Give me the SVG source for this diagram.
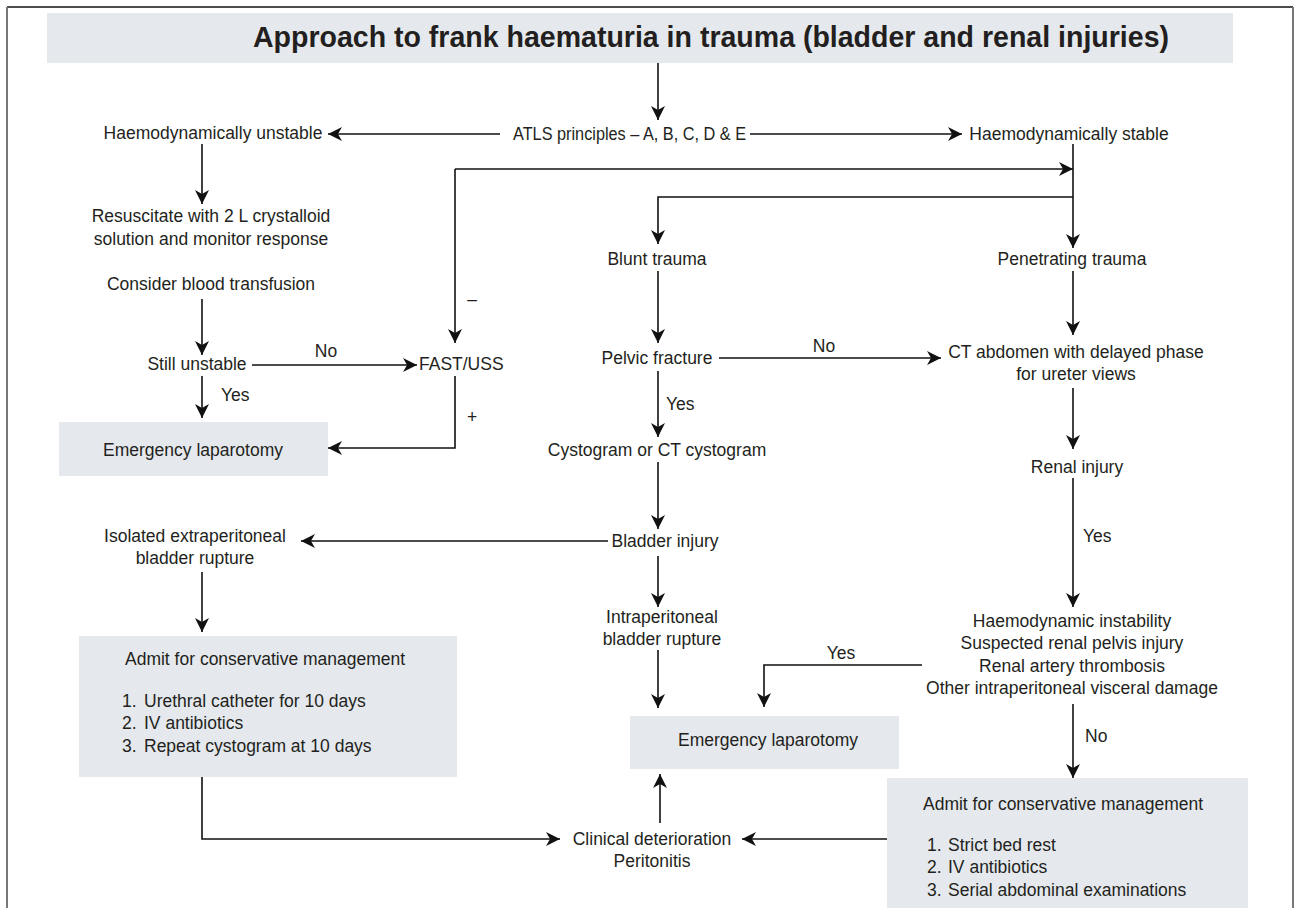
<svg xmlns="http://www.w3.org/2000/svg" width="1295" height="908" viewBox="0 0 1295 908">
<style>
text{font-family:"Liberation Sans",Arial,sans-serif;font-size:17.5px;fill:#231f20}
.c{text-anchor:middle}
.t{font-weight:bold;font-size:29px}
.box{fill:#e5e9ed}
.ln{fill:none;stroke:#111;stroke-width:1.6}
.ln.a{marker-end:url(#ah)}
</style>
<defs>
<marker id="ah" markerUnits="userSpaceOnUse" markerWidth="14" markerHeight="14" refX="12" refY="6" orient="auto" viewBox="0 0 12 12">
<path d="M0,0 L12,6 L0,12 L3.5,6 Z" fill="#111"/>
</marker>
</defs>
<rect width="1295" height="908" fill="#fff"/>
<g id="frame">
<line x1="7" y1="7" x2="1293" y2="7" stroke="#111" stroke-width="1.6"/>
<line x1="7" y1="7" x2="7" y2="908" stroke="#777" stroke-width="2"/>
<line x1="1293" y1="7" x2="1293" y2="908" stroke="#777" stroke-width="2"/>
</g>
<g id="title">
<rect class="box" x="47" y="13" width="1186" height="50"/>
<text class="t" x="253" y="47" textLength="916" lengthAdjust="spacingAndGlyphs">Approach to frank haematuria in trauma (bladder and renal injuries)</text>
</g>
<g id="connectors">
<path class="ln a" d="M658,63 V120"/>
<path class="ln a" d="M500,134 H328"/>
<path class="ln a" d="M750,134 H962"/>
<path class="ln a" d="M202,144 V204"/>
<path class="ln a" d="M202,299 V355"/>
<path class="ln a" d="M252,365 H417"/>
<path class="ln a" d="M202,376 V418"/>
<path class="ln a" d="M455,376 V448 H328"/>
<path class="ln a" d="M1073,144 V248"/>
<path class="ln a" d="M455,169 H1073"/>
<path class="ln a" d="M455,169 V343"/>
<path class="ln a" d="M1073,197 H658 V244"/>
<path class="ln a" d="M658,271 V343"/>
<path class="ln a" d="M719,358 H941"/>
<path class="ln a" d="M658,371 V437"/>
<path class="ln a" d="M658,462 V529"/>
<path class="ln a" d="M608,541 H301"/>
<path class="ln a" d="M658,556 V607"/>
<path class="ln a" d="M658,650 V708"/>
<path class="ln a" d="M1073,271 V335"/>
<path class="ln a" d="M1073,388 V449"/>
<path class="ln a" d="M1073,478 V607"/>
<path class="ln a" d="M922,665 H764 V707"/>
<path class="ln a" d="M1073,704 V778"/>
<path class="ln a" d="M202,572 V632"/>
<path class="ln a" d="M202,777 V839 H560"/>
<path class="ln a" d="M887,839 H742"/>
<path class="ln a" d="M660,823 V774"/>
</g>
<g id="labels">
<text x="326" y="357" class="c">No</text>
<text x="221" y="401">Yes</text>
<text x="472" y="305" class="c">–</text>
<text x="472" y="423" class="c">+</text>
<text x="824" y="352" class="c">No</text>
<text x="666" y="410">Yes</text>
<text x="841" y="659" class="c">Yes</text>
<text x="1083" y="542">Yes</text>
<text x="1085" y="742">No</text>
</g>
<g id="n-atls"><text x="513" y="140" textLength="233" lengthAdjust="spacingAndGlyphs">ATLS principles – A, B, C, D &amp; E</text></g>
<g id="n-unstable"><text x="213" y="139" class="c">Haemodynamically unstable</text></g>
<g id="n-stable"><text x="1069" y="140" class="c">Haemodynamically stable</text></g>
<g id="n-resus"><text x="211" y="222" class="c">Resuscitate with 2 L crystalloid</text><text x="211" y="245" class="c">solution and monitor response</text></g>
<g id="n-transfusion"><text x="211" y="290" class="c">Consider blood transfusion</text></g>
<g id="n-still"><text x="197" y="370" class="c">Still unstable</text></g>
<g id="n-fast"><text x="419" y="370">FAST/USS</text></g>
<g id="n-lap1"><rect class="box" x="59" y="422" width="269" height="54"/><text x="193" y="456" class="c">Emergency laparotomy</text></g>
<g id="n-blunt"><text x="657" y="265" class="c">Blunt trauma</text></g>
<g id="n-pelvic"><text x="657" y="364" class="c">Pelvic fracture</text></g>
<g id="n-cysto"><text x="657" y="456" class="c">Cystogram or CT cystogram</text></g>
<g id="n-bladder"><text x="665" y="547" class="c">Bladder injury</text></g>
<g id="n-intra"><text x="662" y="623" class="c">Intraperitoneal</text><text x="662" y="645" class="c">bladder rupture</text></g>
<g id="n-isolated"><text x="195" y="542" class="c">Isolated extraperitoneal</text><text x="195" y="564" class="c">bladder rupture</text></g>
<g id="n-admit1"><rect class="box" x="79" y="636" width="378" height="141"/>
<text x="125" y="665">Admit for conservative management</text>
<text x="122" y="707">1.</text><text x="144" y="707">Urethral catheter for 10 days</text>
<text x="122" y="729">2.</text><text x="144" y="729">IV antibiotics</text>
<text x="122" y="752">3.</text><text x="144" y="752">Repeat cystogram at 10 days</text>
</g>
<g id="n-lap2"><rect class="box" x="630" y="716" width="269" height="53"/><text x="768" y="746" class="c">Emergency laparotomy</text></g>
<g id="n-clinical"><text x="652" y="845" class="c">Clinical deterioration</text><text x="652" y="867" class="c">Peritonitis</text></g>
<g id="n-penetrating"><text x="1072" y="265" class="c">Penetrating trauma</text></g>
<g id="n-ct"><text x="1076" y="358" class="c">CT abdomen with delayed phase</text><text x="1076" y="380" class="c">for ureter views</text></g>
<g id="n-renal"><text x="1077" y="473" class="c">Renal injury</text></g>
<g id="n-haemo"><text x="1072" y="627" class="c">Haemodynamic instability</text><text x="1072" y="649" class="c">Suspected renal pelvis injury</text><text x="1072" y="672" class="c">Renal artery thrombosis</text><text x="1072" y="694" class="c">Other intraperitoneal visceral damage</text></g>
<g id="n-admit2"><rect class="box" x="887" y="778" width="361" height="130"/>
<text x="923" y="810">Admit for conservative management</text>
<text x="927" y="851">1.</text><text x="948" y="851">Strict bed rest</text>
<text x="927" y="873">2.</text><text x="948" y="873">IV antibiotics</text>
<text x="927" y="896">3.</text><text x="948" y="896">Serial abdominal examinations</text>
</g>
</svg>
